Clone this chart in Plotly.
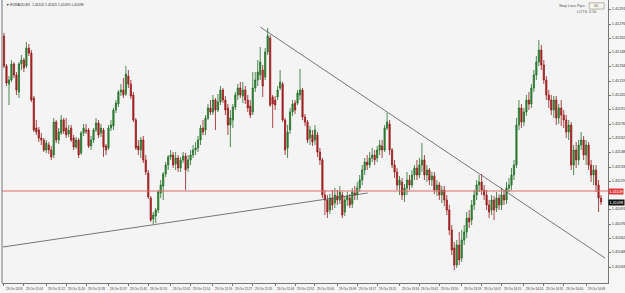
import plotly.graph_objects as go

# ---- data (EURAUD M1 candles) ----
opens = [
1.41264,1.41234,1.41216,1.41220,1.41236,1.41225,1.41208,1.41236,1.41240,1.41234,
1.41252,1.41247,1.41202,1.41172,1.41170,1.41162,1.41160,1.41150,1.41155,1.41150,
1.41145,1.41178,1.41160,1.41167,1.41180,1.41172,1.41166,1.41172,1.41162,1.41153,
1.41160,1.41147,1.41167,1.41170,1.41170,1.41154,1.41160,1.41170,1.41177,1.41167,
1.41170,1.41154,1.41152,1.41172,1.41174,1.41190,1.41196,1.41208,1.41210,1.41206,
1.41224,1.41216,1.41205,1.41180,1.41154,1.41150,1.41160,1.41140,1.41127,1.41102,
1.41081,1.41084,1.41090,1.41107,1.41114,1.41126,1.41135,1.41143,1.41145,1.41136,
1.41142,1.41132,1.41140,1.41144,1.41132,1.41140,1.41145,1.41150,1.41152,1.41160,
1.41172,1.41170,1.41182,1.41192,1.41188,1.41200,1.41190,1.41198,1.41210,1.41200,
1.41192,1.41175,1.41180,1.41193,1.41205,1.41212,1.41204,1.41210,1.41200,1.41194,
1.41188,1.41212,1.41220,1.41225,1.41230,1.41223,1.41248,1.41262,1.41203,1.41200,
1.41203,1.41212,1.41216,1.41180,1.41152,1.41170,1.41188,1.41197,1.41197,1.41205,
1.41210,1.41183,1.41178,1.41162,1.41165,1.41160,1.41165,1.41148,1.41140,1.41105,
1.41100,1.41090,1.41102,1.41097,1.41104,1.41100,1.41105,1.41088,1.41100,1.41102,
1.41096,1.41107,1.41105,1.41112,1.41120,1.41130,1.41138,1.41135,1.41142,1.41145,
1.41142,1.41150,1.41154,1.41150,1.41172,1.41176,1.41150,1.41135,1.41128,1.41115,
1.41118,1.41105,1.41112,1.41120,1.41115,1.41125,1.41132,1.41125,1.41135,1.41140,
1.41125,1.41130,1.41120,1.41124,1.41110,1.41115,1.41105,1.41110,1.41100,1.41090,
1.41070,1.41052,1.41035,1.41055,1.41042,1.41060,1.41068,1.41082,1.41080,1.41095,
1.41105,1.41115,1.41118,1.41110,1.41105,1.41095,1.41090,1.41100,1.41092,1.41102,
1.41095,1.41105,1.41100,1.41112,1.41115,1.41125,1.41135,1.41175,1.41192,1.41178,
1.41188,1.41200,1.41196,1.41212,1.41225,1.41238,1.41250,1.41235,1.41220,1.41205,
1.41200,1.41190,1.41200,1.41182,1.41192,1.41185,1.41180,1.41168,1.41175,1.41135,
1.41150,1.41140,1.41155,1.41160,1.41145,1.41155,1.41135,1.41125,1.41130,1.41115,
1.41102]
closes = [
1.41234,1.41217,1.41220,1.41236,1.41225,1.41210,1.41236,1.41240,1.41232,1.41252,
1.41247,1.41200,1.41170,1.41168,1.41162,1.41160,1.41150,1.41157,1.41150,1.41143,
1.41178,1.41160,1.41168,1.41180,1.41169,1.41165,1.41170,1.41160,1.41153,1.41160,
1.41145,1.41167,1.41172,1.41169,1.41154,1.41160,1.41170,1.41177,1.41165,1.41172,
1.41153,1.41150,1.41172,1.41175,1.41190,1.41197,1.41208,1.41210,1.41205,1.41226,
1.41216,1.41204,1.41180,1.41152,1.41150,1.41160,1.41140,1.41128,1.41103,1.41080,
1.41085,1.41090,1.41108,1.41115,1.41126,1.41135,1.41143,1.41145,1.41135,1.41142,
1.41132,1.41140,1.41144,1.41130,1.41140,1.41145,1.41150,1.41152,1.41160,1.41172,
1.41168,1.41182,1.41192,1.41188,1.41200,1.41190,1.41198,1.41210,1.41200,1.41190,
1.41175,1.41182,1.41193,1.41205,1.41212,1.41205,1.41210,1.41200,1.41192,1.41185,
1.41212,1.41220,1.41228,1.41238,1.41214,1.41248,1.41264,1.41195,1.41196,1.41195,
1.41210,1.41218,1.41180,1.41150,1.41168,1.41188,1.41196,1.41190,1.41207,1.41210,
1.41183,1.41178,1.41160,1.41170,1.41158,1.41170,1.41148,1.41140,1.41105,1.41100,
1.41088,1.41102,1.41095,1.41105,1.41100,1.41108,1.41085,1.41100,1.41104,1.41095,
1.41108,1.41105,1.41112,1.41120,1.41130,1.41138,1.41135,1.41142,1.41145,1.41140,
1.41150,1.41155,1.41150,1.41172,1.41178,1.41150,1.41135,1.41128,1.41115,1.41120,
1.41105,1.41112,1.41120,1.41115,1.41125,1.41132,1.41125,1.41135,1.41140,1.41125,
1.41130,1.41120,1.41124,1.41110,1.41115,1.41105,1.41110,1.41100,1.41090,1.41070,
1.41050,1.41035,1.41055,1.41040,1.41060,1.41068,1.41082,1.41078,1.41095,1.41105,
1.41115,1.41118,1.41110,1.41105,1.41095,1.41088,1.41100,1.41090,1.41102,1.41095,
1.41105,1.41100,1.41112,1.41115,1.41125,1.41135,1.41175,1.41192,1.41178,1.41188,
1.41200,1.41196,1.41212,1.41225,1.41238,1.41250,1.41235,1.41220,1.41205,1.41200,
1.41190,1.41200,1.41182,1.41192,1.41185,1.41180,1.41168,1.41175,1.41135,1.41150,
1.41140,1.41155,1.41160,1.41145,1.41155,1.41135,1.41125,1.41130,1.41115,1.41102,
1.41098]
highs = [
1.41267,1.41236,1.41224,1.41240,1.41238,1.41228,1.41238,1.41245,1.41242,1.41258,
1.41256,1.41250,1.41204,1.41180,1.41173,1.41167,1.41162,1.41160,1.41158,1.41154,
1.41182,1.41180,1.41172,1.41185,1.41182,1.41182,1.41175,1.41175,1.41165,1.41163,
1.41162,1.41169,1.41176,1.41176,1.41172,1.41164,1.41172,1.41182,1.41180,1.41176,
1.41172,1.41156,1.41175,1.41180,1.41192,1.41200,1.41210,1.41216,1.41222,1.41234,
1.41230,1.41220,1.41208,1.41182,1.41160,1.41163,1.41164,1.41145,1.41130,1.41104,
1.41088,1.41092,1.41110,1.41120,1.41128,1.41138,1.41145,1.41150,1.41148,1.41148,
1.41145,1.41143,1.41148,1.41147,1.41145,1.41150,1.41155,1.41158,1.41164,1.41175,
1.41180,1.41185,1.41196,1.41200,1.41205,1.41202,1.41206,1.41214,1.41212,1.41204,
1.41196,1.41190,1.41196,1.41208,1.41216,1.41218,1.41218,1.41214,1.41205,1.41200,
1.41228,1.41228,1.41240,1.41253,1.41235,1.41252,1.41272,1.41265,1.41205,1.41204,
1.41214,1.41230,1.41218,1.41182,1.41175,1.41192,1.41200,1.41200,1.41210,1.41231,
1.41212,1.41186,1.41180,1.41174,1.41170,1.41175,1.41168,1.41152,1.41142,1.41110,
1.41105,1.41106,1.41110,1.41112,1.41110,1.41114,1.41108,1.41104,1.41108,1.41106,
1.41112,1.41114,1.41118,1.41125,1.41135,1.41142,1.41145,1.41148,1.41152,1.41150,
1.41154,1.41160,1.41160,1.41175,1.41187,1.41180,1.41152,1.41140,1.41132,1.41124,
1.41122,1.41116,1.41128,1.41125,1.41130,1.41135,1.41140,1.41142,1.41157,1.41145,
1.41135,1.41132,1.41128,1.41128,1.41120,1.41118,1.41114,1.41114,1.41105,1.41095,
1.41075,1.41058,1.41060,1.41068,1.41070,1.41075,1.41088,1.41090,1.41100,1.41110,
1.41120,1.41125,1.41126,1.41115,1.41110,1.41100,1.41105,1.41104,1.41108,1.41106,
1.41112,1.41110,1.41118,1.41122,1.41132,1.41140,1.41182,1.41200,1.41196,1.41192,
1.41205,1.41208,1.41216,1.41230,1.41244,1.41260,1.41255,1.41240,1.41224,1.41210,
1.41205,1.41204,1.41204,1.41196,1.41200,1.41190,1.41185,1.41180,1.41178,1.41155,
1.41158,1.41160,1.41168,1.41164,1.41160,1.41158,1.41140,1.41135,1.41135,1.41120,
1.41105]
lows = [
1.41232,1.41214,1.41195,1.41218,1.41222,1.41205,1.41202,1.41230,1.41228,1.41232,
1.41244,1.41198,1.41168,1.41165,1.41158,1.41155,1.41148,1.41147,1.41146,1.41140,
1.41142,1.41157,1.41156,1.41165,1.41166,1.41162,1.41163,1.41158,1.41150,1.41151,
1.41142,1.41145,1.41164,1.41166,1.41152,1.41150,1.41157,1.41168,1.41162,1.41163,
1.41143,1.41145,1.41150,1.41169,1.41170,1.41187,1.41193,1.41204,1.41202,1.41204,
1.41212,1.41201,1.41178,1.41150,1.41145,1.41142,1.41137,1.41125,1.41101,1.41078,
1.41076,1.41077,1.41087,1.41102,1.41100,1.41123,1.41130,1.41140,1.41132,1.41130,
1.41128,1.41128,1.41137,1.41110,1.41128,1.41135,1.41142,1.41145,1.41148,1.41155,
1.41165,1.41165,1.41180,1.41185,1.41185,1.41170,1.41188,1.41195,1.41197,1.41185,
1.41165,1.41153,1.41172,1.41190,1.41200,1.41202,1.41197,1.41196,1.41188,1.41182,
1.41185,1.41208,1.41214,1.41220,1.41203,1.41220,1.41245,1.41193,1.41172,1.41190,
1.41200,1.41210,1.41178,1.41145,1.41142,1.41166,1.41184,1.41186,1.41195,1.41200,
1.41180,1.41174,1.41157,1.41155,1.41154,1.41155,1.41143,1.41135,1.41102,1.41085,
1.41082,1.41086,1.41090,1.41092,1.41095,1.41096,1.41082,1.41084,1.41094,1.41092,
1.41092,1.41100,1.41100,1.41108,1.41115,1.41125,1.41130,1.41132,1.41138,1.41135,
1.41138,1.41145,1.41142,1.41148,1.41170,1.41145,1.41132,1.41122,1.41110,1.41105,
1.41100,1.41098,1.41105,1.41110,1.41112,1.41120,1.41120,1.41122,1.41128,1.41120,
1.41118,1.41115,1.41114,1.41106,1.41104,1.41100,1.41097,1.41094,1.41085,1.41065,
1.41045,1.41030,1.41032,1.41035,1.41038,1.41055,1.41062,1.41072,1.41075,1.41090,
1.41100,1.41108,1.41105,1.41100,1.41090,1.41082,1.41085,1.41080,1.41088,1.41090,
1.41090,1.41095,1.41096,1.41108,1.41110,1.41120,1.41132,1.41170,1.41172,1.41174,
1.41184,1.41190,1.41192,1.41208,1.41220,1.41234,1.41230,1.41216,1.41200,1.41192,
1.41185,1.41182,1.41175,1.41176,1.41174,1.41172,1.41162,1.41160,1.41130,1.41125,
1.41132,1.41135,1.41150,1.41140,1.41135,1.41130,1.41118,1.41115,1.41108,1.41088,
1.41095]

bar_index = list(range(len(closes)))

time_tick_bars = [0, 8, 17, 25, 33, 42, 50, 58, 67, 75, 84, 92, 100, 109, 117,
                  125, 134, 142, 150, 159, 167, 175, 184, 192, 200, 209, 217, 225, 234]
time_tick_text = ["29 Oct 2018", "29 Oct 11:03", "29 Oct 11:12", "29 Oct 11:20",
                  "29 Oct 11:28", "29 Oct 11:37", "29 Oct 11:45", "29 Oct 11:53",
                  "29 Oct 12:02", "29 Oct 12:10", "29 Oct 12:19", "29 Oct 12:27",
                  "29 Oct 12:35", "29 Oct 12:44", "29 Oct 12:52", "29 Oct 13:00",
                  "29 Oct 13:09", "29 Oct 13:17", "29 Oct 13:25", "29 Oct 13:34",
                  "29 Oct 13:42", "29 Oct 13:50", "29 Oct 13:59", "29 Oct 14:07",
                  "29 Oct 14:15", "29 Oct 14:24", "29 Oct 14:32", "29 Oct 14:40",
                  "29 Oct 14:49"]

price_ticks = [1.41291, 1.41276, 1.41262, 1.41248, 1.41234, 1.41219, 1.41205,
               1.41191, 1.41176, 1.41162, 1.41148, 1.41133, 1.41119, 1.41091,
               1.41076, 1.41062, 1.41048, 1.41033]
price_tick_text = ["%.5f" % p for p in price_ticks]

alert_level = 1.41109
bid_price = closes[-1]

support_line = {"x": [-0.4, 146.2], "y": [1.41053, 1.41107]}
resistance_line = {"x": [103, 241.6], "y": [1.41273, 1.41042]}

symbol_title = "▼ EURAUD,M1  1.41102 1.41105 1.41095 1.41098"
sl_pips = "50"
lots = "0.50"

# ---- figure ----
FONT = "Liberation Sans, Arial, sans-serif"
fig = go.Figure()
fig.add_trace(go.Candlestick(
    x=bar_index, open=opens, high=highs, low=lows, close=closes,
    increasing=dict(line=dict(color="#246f28", width=0.8), fillcolor="#2e8b34"),
    decreasing=dict(line=dict(color="#961c1c", width=0.8), fillcolor="#b42222"),
    whiskerwidth=0, showlegend=False, hoverinfo="skip"))

fig.add_trace(go.Scatter(x=support_line["x"], y=support_line["y"], mode="lines",
                         line=dict(color="#555555", width=0.8), showlegend=False, hoverinfo="skip"))
fig.add_trace(go.Scatter(x=resistance_line["x"], y=resistance_line["y"], mode="lines",
                         line=dict(color="#555555", width=0.8), showlegend=False, hoverinfo="skip"))

fig.add_hline(y=alert_level, line=dict(color="#e06868", width=1))

ann = []
for b, t in zip(time_tick_bars, time_tick_text):
    ann.append(dict(x=b, xref="x", y=0, yref="paper", yanchor="top", xanchor="left",
                    yshift=-2, text=t, showarrow=False,
                    font=dict(size=3.0, color="#333333", family=FONT)))
ann.append(dict(x=1, xref="paper", y=alert_level, yref="y", xanchor="left", text="1.41109",
                showarrow=False, bgcolor="#e03a3a", font=dict(size=3.8, color="white", family=FONT),
                borderpad=0.5))
ann.append(dict(x=1, xref="paper", y=bid_price, yref="y", xanchor="left", text="%.5f" % bid_price,
                showarrow=False, bgcolor="#111111", font=dict(size=3.8, color="white", family=FONT),
                borderpad=0.5))
ann.append(dict(x=0.004, xref="paper", y=0.997, yref="paper", xanchor="left", yanchor="top",
                text=symbol_title, showarrow=False,
                font=dict(size=3.4, color="#333333", family=FONT)))
ann.append(dict(x=0.9655, xref="paper", y=0.979, yref="paper", xanchor="right", yanchor="middle",
                text="Stop Loss Pips:", showarrow=False,
                font=dict(size=3.8, color="#555555", family=FONT)))
ann.append(dict(x=0.9730, xref="paper", y=0.979, yref="paper", xanchor="left", yanchor="middle",
                text=sl_pips, showarrow=False,
                font=dict(size=3.8, color="#555555", family=FONT)))
ann.append(dict(x=0.9830, xref="paper", y=0.957, yref="paper", xanchor="right", yanchor="middle",
                text="LOTS: " + lots, showarrow=False,
                font=dict(size=3.8, color="#555555", family=FONT)))

shapes = [
    dict(type="rect", xref="paper", yref="paper", x0=0.916, x1=0.998, y0=0.947, y1=1.0,
         fillcolor="#ebe8d8", line=dict(color="#cfcbb6", width=0.7), layer="above"),
    dict(type="rect", xref="paper", yref="paper", x0=0.9690, x1=0.9935, y0=0.968, y1=0.990,
         fillcolor="#f6f5ee", line=dict(color="#8f8c7c", width=0.6), layer="above"),
    dict(type="line", xref="paper", yref="paper", x0=0, x1=0, y0=0, y1=1,
         line=dict(color="#777777", width=1)),
]

fig.update_layout(
    width=625, height=293,
    margin=dict(l=2, r=13, t=0, b=10),
    paper_bgcolor="#f6f6f6", plot_bgcolor="#f4f4f4",
    annotations=ann, shapes=shapes,
    font=dict(family=FONT, size=4, color="#333333"),
    showlegend=False,
)
fig.update_xaxes(range=[-0.8, 242.8], showgrid=False, zeroline=False,
                 rangeslider=dict(visible=False),
                 showline=True, linecolor="#777777", linewidth=1,
                 tickvals=time_tick_bars, showticklabels=False,
                 ticks="outside", ticklen=2, tickcolor="#777777")
fig.update_yaxes(range=[1.41017, 1.41300], side="right", showgrid=False, zeroline=False,
                 showline=True, linecolor="#777777", linewidth=1,
                 tickvals=price_ticks, ticktext=price_tick_text,
                 ticks="outside", ticklen=2, tickcolor="#777777",
                 tickfont=dict(size=3.8, color="#333333", family=FONT))

fig.write_html("out.html")
